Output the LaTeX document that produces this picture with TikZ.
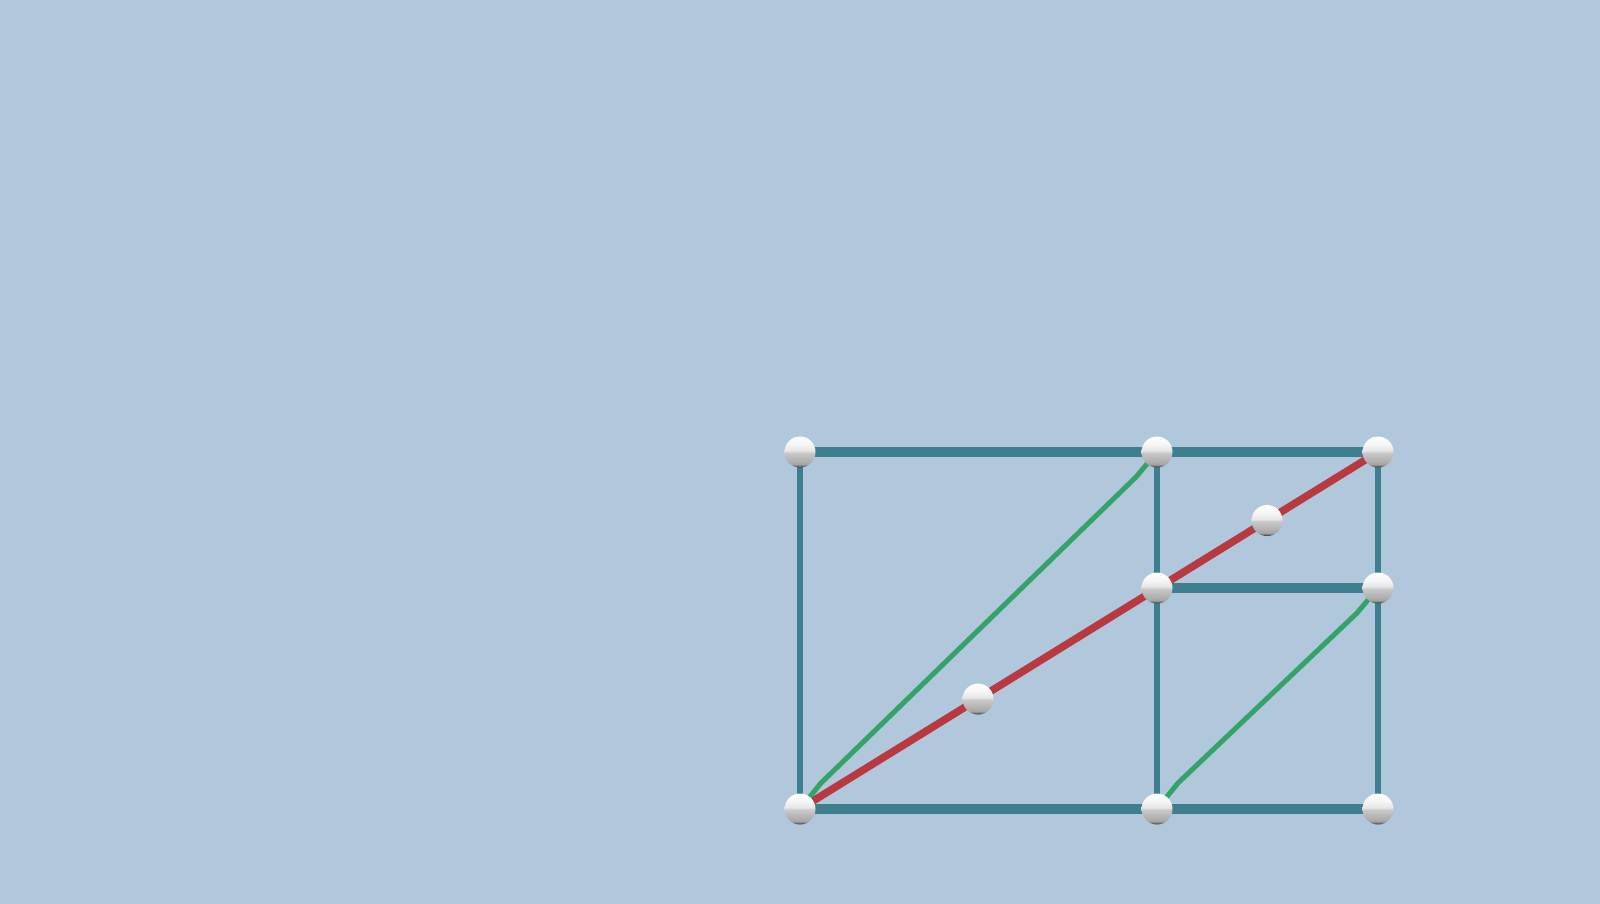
\documentclass[tikz,border=0pt]{standalone}
\usepackage{xcolor}
\usepackage{tikz}
\usetikzlibrary{calc,backgrounds}

\definecolor{skyblue}{RGB}{176,199,220}
\definecolor{beamteal}{RGB}{61,127,143}
\definecolor{diagred}{RGB}{184,58,64}
\definecolor{bracegreen}{RGB}{52,163,104}
\pgfdeclareverticalshading{sphereshade}{100bp}{%
  color(0bp)=(gray!35!black); color(25bp)=(gray!35!black);
  color(30bp)=(gray!70); color(40bp)=(gray!55); color(49bp)=(gray!42);
  color(52bp)=(gray!20); color(62bp)=(gray!8); color(75bp)=(white);
  color(100bp)=(white)}

\begin{document}
\begin{tikzpicture}[
    x=1pt, y=-1pt,
    joint/.style ={circle,inner sep=0pt,minimum size=31pt,
                   shade,shading=sphereshade},
    hbeam/.style ={draw=beamteal,line width=9.5pt},
    vbeam/.style ={draw=beamteal,line width=6.5pt},
    strut/.style ={draw=diagred,line width=7.5pt},
    brace/.style ={draw=bracegreen,line width=5pt,line join=round},
  ]
  % Frame joints: top, middle and bottom rows
  \node[joint] (tl) at (800,452)  {};
  \node[joint] (tm) at (1157,452) {};
  \node[joint] (tr) at (1378,452) {};
  \node[joint] (c)  at (1157,588) {};
  \node[joint] (rm) at (1378,588) {};
  \node[joint] (bl) at (800,809)  {};
  \node[joint] (bm) at (1157,809) {};
  \node[joint] (br) at (1378,809) {};

  % Joints sitting on the long diagonal
  \node[joint] (m1) at ($(bl)!0.308!(tr)$) {};
  \node[joint] (m2) at ($(bl)!0.808!(tr)$) {};

  \begin{scope}[on background layer]
    % Backdrop, fixes the page
    \fill[skyblue] (0,0) rectangle (1600,904);

    % Teal frame
    \draw[hbeam] (tl.center) -- (tm.center) -- (tr.center);
    \draw[hbeam] (c.center)  -- (rm.center);
    \draw[hbeam] (bl.center) -- (bm.center) -- (br.center);
    \draw[vbeam] (tl.center) -- (bl.center);
    \draw[vbeam] (tm.center) -- (c.center) -- (bm.center);
    \draw[vbeam] (tr.center) -- (rm.center) -- (br.center);

    % Red diagonal
    \draw[strut] (bl.center) -- (tr.center);

    % Green braces
    \draw[brace] (bl.center) -- ($(bl)+(21,-26)$)
                 -- ($(tm)+(-21,25)$) -- (tm.center);
    \draw[brace] (bm.center) -- ($(bm)+(21,-26)$)
                 -- ($(rm)+(-21,25)$) -- (rm.center);
  \end{scope}
\end{tikzpicture}
\end{document}
